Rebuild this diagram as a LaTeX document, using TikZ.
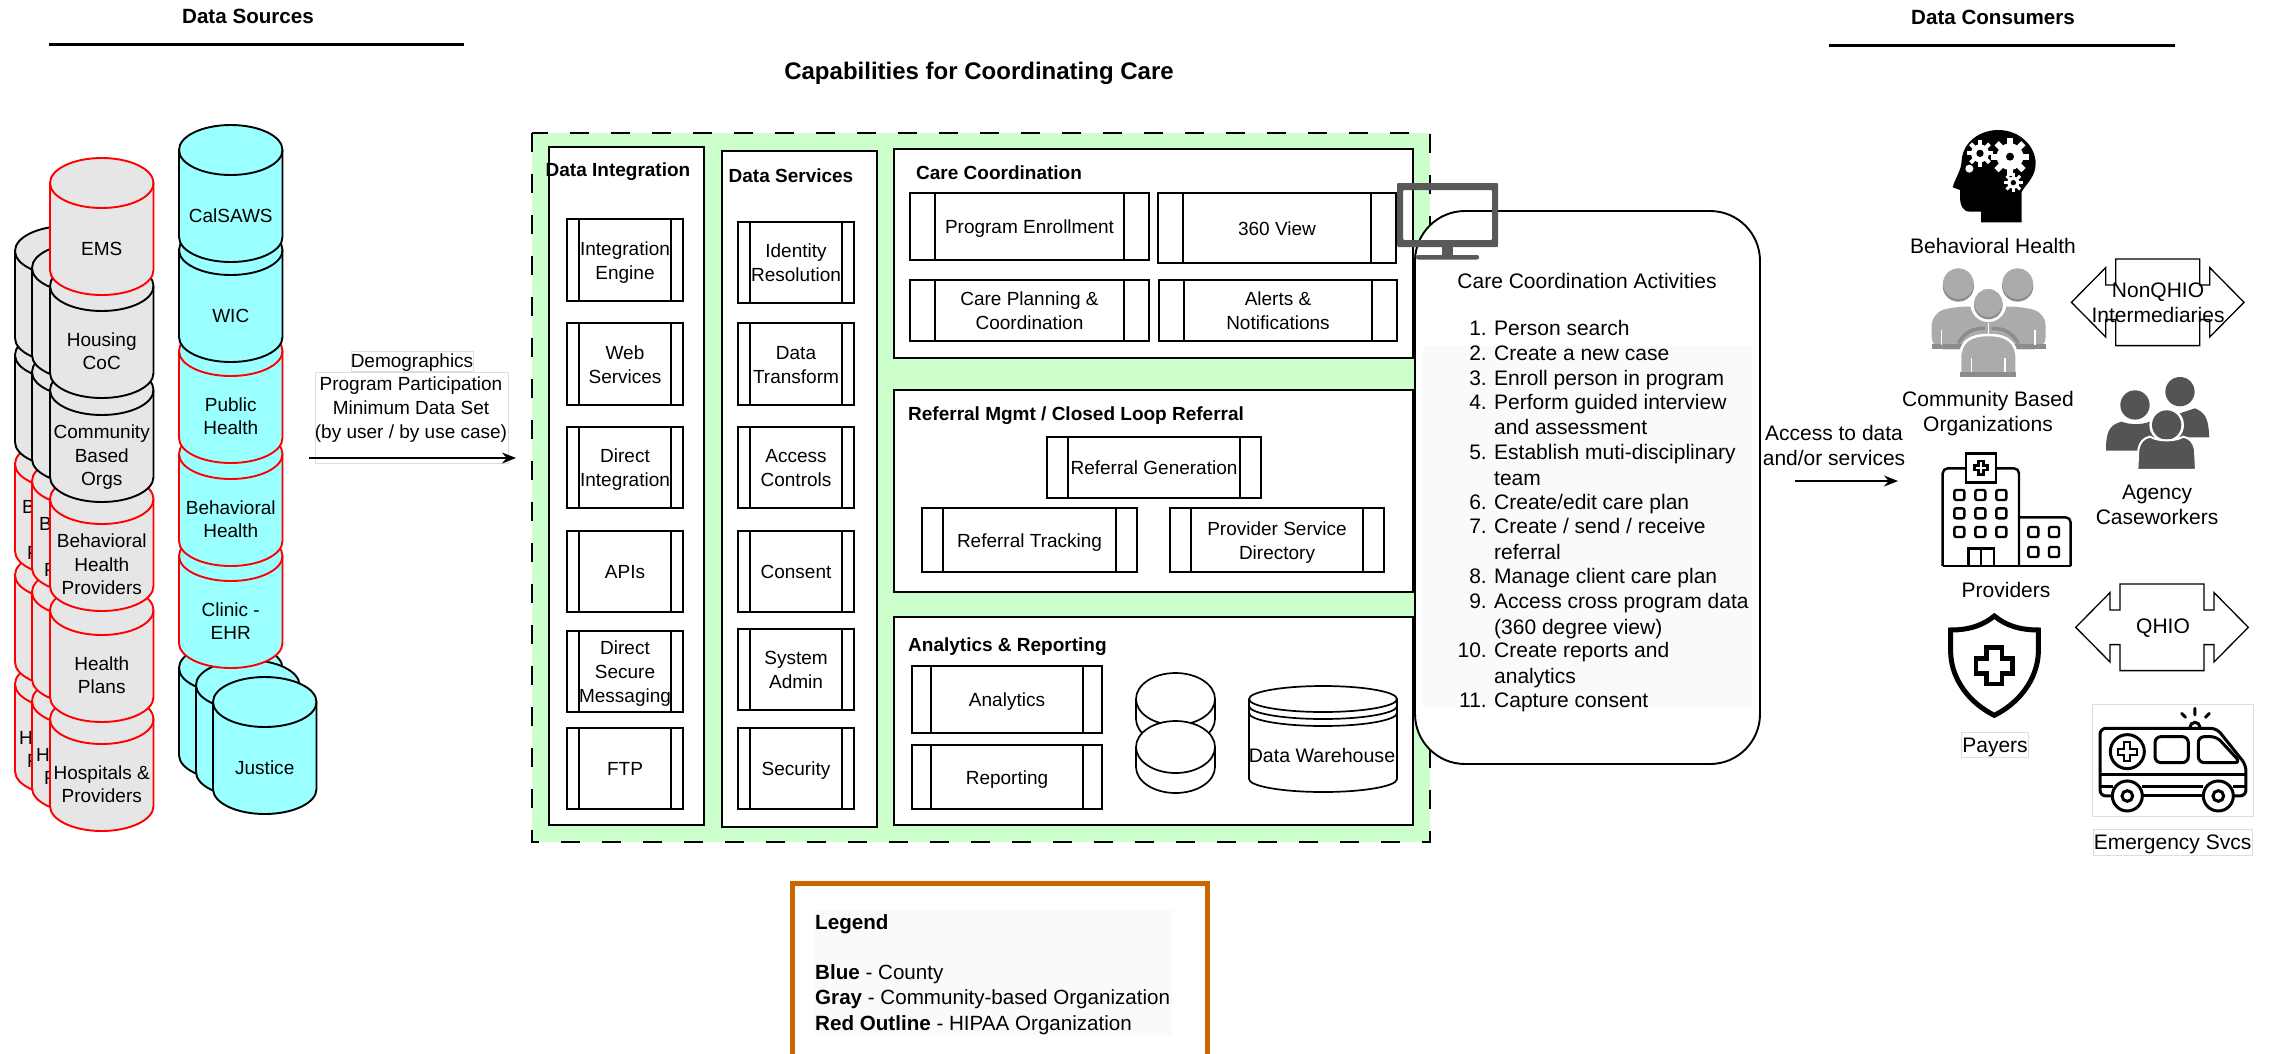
\documentclass[tikz,border=0pt]{standalone}
\usepackage{fontspec}
\setmainfont{Liberation Sans}
\usetikzlibrary{arrows.meta,positioning,calc}
\definecolor{cangray}{HTML}{E6E6E6}
\definecolor{canblue}{HTML}{99FFFF}
\definecolor{canred}{HTML}{FF0000}
\definecolor{capgreen}{HTML}{CCFFCC}
\definecolor{legorange}{HTML}{CC6600}
\definecolor{softbg}{HTML}{FAFAFA}
\definecolor{faintline}{HTML}{DDDDDD}
\definecolor{monitorgray}{HTML}{595959}
\definecolor{crowdgray}{HTML}{ABABAB}
\definecolor{crowdshade}{HTML}{8C8C8C}
\definecolor{staffgray}{HTML}{545454}

\newcommand{\tstrut}{\rule[-4.5pt]{0pt}{23pt}}
\newcommand{\lineup}[1]{\tstrut#1\tstrut}

\tikzset{
  canline/.style={line width=1.9pt},
  cantext/.style={inner sep=0pt, align=center, font=\fontsize{19}{23.5}\selectfont},
  bodytext/.style={inner sep=0pt, align=center, font=\fontsize{19}{24}\selectfont},
  sidetext/.style={inner sep=0pt, align=center, font=\fontsize{21}{25}\selectfont},
  legendtext/.style={inner sep=0pt, anchor=west, font=\fontsize{20.6}{25}\selectfont},
  headtext/.style={inner sep=0pt, font=\fontsize{19}{23}\selectfont\bfseries},
  panel/.style={draw, fill=white, line width=1.9pt, inner sep=0pt},
  faintbox/.style={draw=faintline, fill=white, line width=0.8pt, inner sep=0pt},
  barw/.store in=\barwidth, barw=12pt,
  procbox/.style={draw, fill=white, line width=1.8pt, inner sep=0pt, align=center,
    font=\fontsize{19}{24}\selectfont,
    path picture={
      \draw[line width=1.8pt]
        ($(path picture bounding box.north west)+(\barwidth,0)$) --
        ($(path picture bounding box.south west)+(\barwidth,0)$);
      \draw[line width=1.8pt]
        ($(path picture bounding box.north east)+(-\barwidth,0)$) --
        ($(path picture bounding box.south east)+(-\barwidth,0)$);
    }},
  flow/.style={line width=1.5pt, -{Stealth[length=14pt,width=11pt]}},
  sectionrule/.style={line width=3pt},
  hioarrow/.pic={
    \draw[line width=1.3pt, fill=white]
      (-86.3,0) -- (-52,34.7) -- (-52,17.3) -- (-42,17.3) -- (-42,43.3) -- (42,43.3) --
      (42,17.3) -- (52,17.3) -- (52,34.7) -- (86.3,0) -- (52,-34.7) -- (52,-17.3) --
      (42,-17.3) -- (42,-43.3) -- (-42,-43.3) -- (-42,-17.3) -- (-52,-17.3) -- (-52,-34.7) -- cycle;
  }
}

% x, top, stroke, fill, name, label
\newcommand{\dbcan}[6]{
  \pgfmathsetmacro\canx{#1}
  \pgfmathsetmacro\cany{-(#2)}
  \filldraw[canline, draw=#3, fill=#4]
    (\canx,\cany-25) -- (\canx,\cany-112) arc (180:360:51.75 and 25) --
    (\canx+103.5,\cany-25) arc (0:180:51.75 and 25) -- cycle;
  \draw[canline, draw=#3] (\canx,\cany-25) arc (180:360:51.75 and 25);
  \node[cantext] (#5) at (\canx+51.75,\cany-90) {\lineup{#6}};
}

% x, y, body radius, tooth radius, tooth width, hole radius
\newcommand{\gearmark}[6]{
  \fill[white] (#1,#2) circle (#3);
  \foreach \t in {0,45,...,315}{
    \draw[white, line width=#5] (#1,#2) -- ++(\t:#4);
  }
  \fill[black] (#1,#2) circle (#6);
}

% x, y, half arm width, half arm length
\newcommand{\crossmark}[4]{
  \draw (#1-#3,#2+#4) -- (#1+#3,#2+#4) -- (#1+#3,#2+#3) -- (#1+#4,#2+#3) --
    (#1+#4,#2-#3) -- (#1+#3,#2-#3) -- (#1+#3,#2-#4) -- (#1-#3,#2-#4) --
    (#1-#3,#2-#3) -- (#1-#4,#2-#3) -- (#1-#4,#2+#3) -- (#1-#3,#2+#3) -- cycle;
}

\begin{document}
\begin{tikzpicture}[x=1pt, y=1pt]
  \useasboundingbox (0,0) rectangle (2277,-1053);

  % ---- Section headings ----
  \node[headtext, font=\fontsize{20.6}{24}\selectfont\bfseries] (srchead) at (248,-16) {\lineup{Data Sources}};
  \coordinate (srcruleL) at (49,-44);
  \coordinate (srcruleR) at (464,-44);
  \draw[sectionrule] (srcruleL) -- (srcruleR);
  \node[headtext, font=\fontsize{20.6}{24}\selectfont\bfseries] (conhead) at (1993,-17) {\lineup{Data Consumers}};
  \coordinate (conruleL) at (1829,-45);
  \coordinate (conruleR) at (2175,-45);
  \draw[sectionrule] (conruleL) -- (conruleR);
  \node[headtext, font=\fontsize{24}{28}\selectfont\bfseries] (caphead) at (979,-73) {\lineup{Capabilities for Coordinating Care}};

  % ---- Gray source stacks ----
  \foreach \bk/\off in {a/35,b/18}{
    \dbcan{50-\off}{694-\off}{canred}{cangray}{hosp\bk}{}
    \node[cantext, anchor=west] (hospH\bk) at ({54-\off},{-772.5+\off}) {\lineup{H}};
    \node[cantext, anchor=west] (hospP\bk) at ({62-\off},{-795.5+\off}) {\lineup{P}};
    \dbcan{50-\off}{585-\off}{canred}{cangray}{plan\bk}{}
    \dbcan{50-\off}{474-\off}{canred}{cangray}{bhp\bk}{}
    \node[cantext, anchor=west] (bhpB\bk) at ({57-\off},{-541+\off}) {\lineup{B}};
    \node[cantext, anchor=west] (bhpP\bk) at ({62-\off},{-587+\off}) {\lineup{P}};
    \dbcan{50-\off}{365-\off}{black}{cangray}{cbo\bk}{}
    \dbcan{50-\off}{261-\off}{black}{cangray}{hous\bk}{}
  }
  \foreach \ctop/\cstroke/\cname/\clabel in {
    694/canred/hosp/{Hospitals \&\\Providers},
    585/canred/plan/{Health\\Plans},
    474/canred/bhp/{Behavioral\\Health\\Providers},
    365/black/cbo/{Community\\Based\\Orgs},
    261/black/hous/{Housing\\CoC},
    158/canred/ems/{EMS}}{
    \dbcan{50}{\ctop}{\cstroke}{cangray}{\cname}{\clabel}
  }

  % ---- Blue source stack ----
  \dbcan{179}{643}{black}{canblue}{justa}{}
  \dbcan{196}{660}{black}{canblue}{justb}{}
  \dbcan{213}{677}{black}{canblue}{just}{Justice}
  \foreach \ctop/\cstroke/\cname/\clabel in {
    531/canred/clinic/{Clinic -\\EHR},
    429/canred/behav/{Behavioral\\Health},
    326/canred/pubh/{Public\\Health},
    225/black/wic/{WIC},
    125/black/calsaws/{CalSAWS}}{
    \dbcan{179}{\ctop}{\cstroke}{canblue}{\cname}{\clabel}
  }

  % ---- Feed arrow ----
  \node[faintbox, minimum width=122pt, minimum height=20pt] (demobox) at (412,-361) {};
  \node[faintbox, minimum width=193pt, minimum height=91pt] (partbox) at (411.5,-418) {};
  \node[bodytext] (demotxt) at (412,-360) {\lineup{Demographics}};
  \node[bodytext] (parttxt) at (411,-407) {\lineup{Program Participation\\Minimum Data Set\\(by user / by use case)}};
  \coordinate (feedfrom) at (309,-458);
  \coordinate (feedto) at (516,-458);
  \draw[flow] (feedfrom) -- (feedto);

  % ---- Capability frame ----
  \fill[capgreen] (532,-133) rectangle (1430,-842);
  \draw[line width=2pt, dash pattern=on 19pt off 22pt] (532,-133) rectangle (1430,-842);

  % ---- Data Integration column ----
  \node[panel, minimum width=155pt, minimum height=678pt] (intcol) at (626.5,-486) {};
  \node[headtext] (inthead) at (618,-169) {\lineup{Data Integration}};
  \foreach \py/\pht/\pname/\plabel in {
    260/82/inta/{Integration\\Engine},
    364/82/intb/{Web\\Services},
    467.5/81/intc/{Direct\\Integration},
    571.5/81/intd/{APIs},
    671.5/81/inte/{Direct\\Secure\\Messaging},
    768.5/81/intf/{FTP}}{
    \node[procbox, minimum width=116pt, minimum height=\pht pt] (\pname) at (625,-\py) {\lineup{\plabel}};
  }

  % ---- Data Services column ----
  \node[panel, minimum width=155pt, minimum height=676pt] (svccol) at (799.5,-489) {};
  \node[headtext] (svchead) at (791,-175) {\lineup{Data Services}};
  \foreach \py/\pht/\pname/\plabel in {
    262.5/81/svca/{Identity\\Resolution},
    364/82/svcb/{Data\\Transform},
    467.5/81/svcc/{Access\\Controls},
    571.5/81/svcd/{Consent},
    669.5/81/svce/{System\\Admin},
    768.5/81/svcf/{Security}}{
    \node[procbox, minimum width=116pt, minimum height=\pht pt] (\pname) at (796,-\py) {\lineup{\plabel}};
  }

  % ---- Care Coordination panel ----
  \node[panel, minimum width=519pt, minimum height=209pt] (carepanel) at (1153.5,-253.5) {};
  \node[headtext, anchor=west] (carehead) at (916,-172) {\lineup{Care Coordination}};
  \node[procbox, barw=25pt, minimum width=239pt, minimum height=67pt] (progenr) at (1029.5,-226.5) {\lineup{Program Enrollment}};
  \node[procbox, barw=25pt, minimum width=238pt, minimum height=70pt] (view360) at (1277,-228) {\lineup{360 View}};
  \node[procbox, barw=25pt, minimum width=239pt, minimum height=61pt] (careplan) at (1029.5,-310.5) {\lineup{Care Planning \&\\Coordination}};
  \node[procbox, barw=25pt, minimum width=238pt, minimum height=61pt] (alerts) at (1278,-310.5) {\lineup{Alerts \&\\Notifications}};

  % ---- Referral panel ----
  \node[panel, minimum width=519pt, minimum height=202pt] (refpanel) at (1153.5,-491) {};
  \node[headtext, anchor=west] (refhead) at (908,-413) {\lineup{Referral Mgmt / Closed Loop Referral}};
  \node[procbox, barw=21pt, minimum width=214pt, minimum height=61pt] (refgen) at (1154,-467.5) {\lineup{Referral Generation}};
  \node[procbox, barw=21pt, minimum width=215pt, minimum height=64pt] (reftrack) at (1029.5,-540) {\lineup{Referral Tracking}};
  \node[procbox, barw=21pt, minimum width=214pt, minimum height=64pt] (provdir) at (1277,-540) {\lineup{Provider Service\\Directory}};

  % ---- Analytics panel ----
  \node[panel, minimum width=519pt, minimum height=208pt] (anpanel) at (1153.5,-721) {};
  \node[headtext, anchor=west] (anhead) at (908,-644) {\lineup{Analytics \& Reporting}};
  \node[procbox, barw=19pt, minimum width=190pt, minimum height=67pt] (analytics) at (1007,-699.5) {\lineup{Analytics}};
  \node[procbox, barw=19pt, minimum width=190pt, minimum height=64pt] (reporting) at (1007,-777) {\lineup{Reporting}};
  % Two disks
  \foreach \dtop in {673,721}{
    \filldraw[fill=white, line width=1.7pt]
      (1136,-\dtop-26) -- (1136,-\dtop-46) arc (180:360:39.5 and 26) --
      (1215,-\dtop-26) arc (0:180:39.5 and 26) -- cycle;
    \draw[line width=1.7pt] (1136,-\dtop-26) arc (180:360:39.5 and 26);
  }
  % Warehouse
  \filldraw[fill=white, line width=1.7pt]
    (1249,-699) -- (1249,-779) arc (180:360:74 and 13) --
    (1397,-699) arc (0:180:74 and 13) -- cycle;
  \foreach \dy in {0,7,14}{
    \draw[line width=1.7pt] (1249,-699-\dy) arc (180:360:74 and 13);
  }
  \node[inner sep=0pt, font=\fontsize{19.6}{24}\selectfont] (dwh) at (1322,-755) {\lineup{Data Warehouse}};

  % ---- Care Coordination Activities ----
  \draw[line width=1.9pt, fill=white, rounded corners=50pt] (1415,-211) rectangle (1760,-764);
  \fill[softbg] (1423,-345.5) rectangle (1752,-708);
  \node[sidetext] (acthead) at (1587,-281) {\lineup{Care Coordination Activities}};
  \foreach \ly/\lnum in {335/1.,360/2.,385/3.,409/4.,459/5.,509/6.,533/7.,583/8.,608/9.,657/10.,707/11.}{
    \node[sidetext, anchor=base east] (num\ly) at (1487,-\ly) {\lnum};
  }
  \foreach \ly/\ltxt in {
    335/{Person search},
    360/{Create a new case},
    385/{Enroll person in program},
    409/{Perform guided interview},
    434/{and assessment},
    459/{Establish muti-disciplinary},
    485/{team},
    509/{Create/edit care plan},
    533/{Create / send / receive},
    559/{referral},
    583/{Manage client care plan},
    608/{Access cross program data},
    634/{(360 degree view)},
    657/{Create reports and},
    683/{analytics},
    707/{Capture consent}}{
    \node[sidetext, anchor=base west] (line\ly) at (1494,-\ly) {\ltxt};
  }

  % ---- Monitor ----
  \fill[monitorgray, even odd rule, rounded corners=1pt]
    (1397,-183) rectangle (1498,-247) (1403,-190) rectangle (1492,-240);
  \fill[monitorgray] (1442,-247) rectangle (1453,-255);
  \fill[monitorgray, rounded corners=2pt] (1416,-255) rectangle (1479,-259.5);

  % ---- Access arrow ----
  \node[sidetext] (accesstxt) at (1834,-446) {\lineup{Access to data\\and/or services}};
  \coordinate (accfrom) at (1795,-481);
  \coordinate (accto) at (1898,-481);
  \draw[flow] (accfrom) -- (accto);

  % ---- Behavioral health head ----
  \begin{scope}[shift={(1870,-100)}, scale=0.3333]
    \fill[black]
      (455,-367) -- (333,-367) -- (333,-335) -- (300,-335)
      .. controls (278,-335) and (270,-315) .. (270,-290)
      -- (270,-270) -- (248,-262)
      .. controls (255,-235) and (275,-210) .. (275,-180)
      .. controls (280,-125) and (330,-90) .. (385,-90)
      .. controls (450,-90) and (497,-140) .. (497,-190)
      .. controls (497,-230) and (470,-250) .. (455,-275) -- cycle;
    \gearmark{420}{-170}{40}{57}{6pt}{12}
    \gearmark{330}{-160}{27}{40}{4pt}{11}
    \gearmark{430}{-248}{18}{29}{3pt}{8}
    \fill[white] (298,-206) circle (12);
  \end{scope}
  \node[sidetext] (bhtxt) at (1993,-246) {\lineup{Behavioral Health}};

  % ---- Community people ----
  \begin{scope}[shift={(1870,-100)}, scale=0.3333]
    \foreach \hx in {265,443}{
      \fill[crowdshade] (\hx,-558) circle (47);
      \fill[crowdgray] (\hx,-551) circle (46);
    }
    \fill[crowdgray, rounded corners=12pt]
      (185,-748) -- (185,-640) -- (250,-620) -- (460,-620) -- (527,-640) -- (527,-748) -- cycle;
    \fill[crowdshade] (185,-733) rectangle (527,-748);
    \draw[white, line width=1.5pt] (215,-690) -- (215,-735) (495,-690) -- (495,-735);
    \draw[crowdshade, line width=3.5pt] (265,-730) .. controls (285,-695) and (310,-685) .. (345,-685);
    \draw[crowdshade, line width=3.5pt] (445,-730) .. controls (425,-695) and (400,-685) .. (365,-685);
    \fill[white] (355,-612) circle (54);
    \fill[crowdshade] (355,-615) circle (43);
    \fill[crowdgray] (355,-609) circle (42);
    \draw[white, line width=1.5pt] (355,-670) -- (355,-705);
    \filldraw[draw=white, line width=2.5pt, fill=crowdgray]
      (270,-830) -- (270,-775) .. controls (270,-725) and (300,-705) .. (355,-705)
      .. controls (410,-705) and (440,-725) .. (440,-775) -- (440,-830) -- cycle;
    \fill[crowdshade] (271,-815) rectangle (439,-830);
    \draw[white, line width=1.5pt] (305,-775) -- (305,-815) (405,-775) -- (405,-815);
  \end{scope}
  \node[sidetext] (cbotxt) at (1988,-412) {\lineup{Community Based\\Organizations}};

  % ---- Agency caseworkers ----
  \begin{scope}[shift={(1870,-100)}, scale=0.3333]
    \fill[staffgray] (708,-1052) .. controls (708,-1000) and (715,-975) .. (755,-965)
      .. controls (780,-975) and (815,-975) .. (840,-965) -- (870,-1052) -- cycle;
    \fill[staffgray] (795,-915) circle (44);
    \fill[staffgray] (1018,-1012) .. controls (1015,-960) and (1010,-940) .. (975,-925)
      -- (900,-950) -- (880,-1012) -- cycle;
    \fill[staffgray] (930,-875) circle (44);
    \fill[white] (890,-975) circle (52);
    \fill[staffgray] (890,-975) circle (44);
    \filldraw[draw=white, line width=2pt, fill=staffgray]
      (802,-1110) -- (805,-1050) .. controls (810,-1025) and (820,-1015) .. (840,-1010)
      .. controls (865,-1025) and (915,-1025) .. (940,-1010)
      .. controls (960,-1015) and (970,-1025) .. (975,-1050) -- (978,-1110) -- cycle;
  \end{scope}
  \node[sidetext] (agencytxt) at (2157,-505) {\lineup{Agency\\Caseworkers}};

  % ---- Providers building ----
  \begin{scope}[shift={(1870,-440)}, scale=0.3333, line width=2.4pt]
    \draw[rounded corners=5pt] (218,-378) -- (218,-85) -- (447,-85) -- (447,-378);
    \draw[rounded corners=5pt] (447,-232) -- (602,-232) -- (602,-378);
    \draw (218,-378) -- (602,-378);
    \filldraw[fill=white] (288,-40) rectangle (378,-127);
    \crossmark{333}{-83}{7}{20}
    \foreach \wx in {268,331,394}{
      \foreach \wy in {165,220,276}{
        \draw[rounded corners=2pt] (\wx-15,-\wy+15) rectangle (\wx+15,-\wy-15);
      }
    }
    \foreach \wx in {490,552}{
      \foreach \wy in {276,336}{
        \draw[rounded corners=2pt] (\wx-15,-\wy+15) rectangle (\wx+15,-\wy-15);
      }
    }
    \draw (295,-378) -- (295,-325) -- (372,-325) -- (372,-378) (333,-325) -- (333,-378);
  \end{scope}
  \node[sidetext] (provtxt) at (2006,-590) {\lineup{Providers}};

  % ---- Payers shield ----
  \begin{scope}[shift={(1870,-440)}, scale=0.3333]
    \draw[line width=5pt]
      (373,-528) .. controls (340,-555) and (300,-570) .. (242,-570) -- (242,-640)
      .. controls (245,-720) and (300,-790) .. (373,-826)
      .. controls (446,-790) and (501,-720) .. (505,-640) -- (505,-570)
      .. controls (446,-570) and (406,-555) .. (373,-528) -- cycle;
    \filldraw[fill=white, line width=4.5pt]
      (350,-623) -- (396,-623) -- (396,-655) -- (428,-655) -- (428,-700) -- (396,-700) --
      (396,-732) -- (350,-732) -- (350,-700) -- (318,-700) -- (318,-655) -- (350,-655) -- cycle;
  \end{scope}
  \node[sidetext, draw=faintline, line width=0.8pt, minimum width=67pt, minimum height=25pt] (payertxt) at (1995,-745) {\lineup{Payers}};

  % ---- Intermediary arrows ----
  \pic at (2157.7,-302.3) {hioarrow};
  \node[sidetext] (nonqhio) at (2158,-303) {\lineup{NonQHIO\\Intermediaries}};
  \pic at (2162,-627.3) {hioarrow};
  \node[sidetext] (qhio) at (2163,-626) {\lineup{QHIO}};

  % ---- Ambulance ----
  \node[faintbox, minimum width=161pt, minimum height=112pt] (ambbox) at (2172.7,-760.3) {};
  \begin{scope}[shift={(1870,-440)}, scale=0.3333, line width=3pt]
    \draw[rounded corners=6pt]
      (725,-1068) -- (690,-1068) -- (690,-865) -- (1040,-865) -- (1128,-975) -- (1128,-1068) -- (1090,-1068);
    \draw (690,-1005) -- (1128,-1005);
    \draw (690,-1040) -- (730,-1040) (815,-1040) -- (1000,-1040) (1090,-1040) -- (1128,-1040);
    \draw (820,-1068) -- (1000,-1068);
    \draw (772,-935) circle (51);
    \begin{scope}[line width=2.2pt]
      \crossmark{772}{-935}{9}{28}
    \end{scope}
    \draw[rounded corners=6pt] (855,-890) rectangle (955,-968);
    \draw[rounded corners=6pt] (985,-968) -- (985,-890) -- (1040,-890) -- (1112,-968) -- cycle;
    \filldraw[fill=white] (772,-1068) circle (45);
    \draw (772,-1068) circle (16);
    \filldraw[fill=white] (1045,-1068) circle (45);
    \draw (1045,-1068) circle (16);
    \draw (960,-862) arc (180:0:15);
    \draw[line cap=round] (975,-805) -- (975,-825) (935,-820) -- (947,-832) (1018,-820) -- (1006,-832);
  \end{scope}
  \node[sidetext, draw=faintline, line width=0.8pt, minimum width=159pt, minimum height=26pt] (emstxt) at (2172.5,-842) {\lineup{Emergency Svcs}};

  % ---- Legend ----
  \draw[legorange, line width=5pt] (792.5,-1060) -- (792.5,-883.5) -- (1207.5,-883.5) -- (1207.5,-1060);
  \fill[softbg] (814,-910) rectangle (1172,-1035);
  \node[legendtext] (legtitle) at (815,-922) {\lineup{\textbf{Legend}}};
  \node[legendtext] (legblue) at (815,-972) {\lineup{\textbf{Blue} - County}};
  \node[legendtext] (leggray) at (815,-997) {\lineup{\textbf{Gray} - Community-based Organization}};
  \node[legendtext] (legred) at (815,-1023) {\lineup{\textbf{Red Outline} - HIPAA Organization}};

\end{tikzpicture}
\end{document}
